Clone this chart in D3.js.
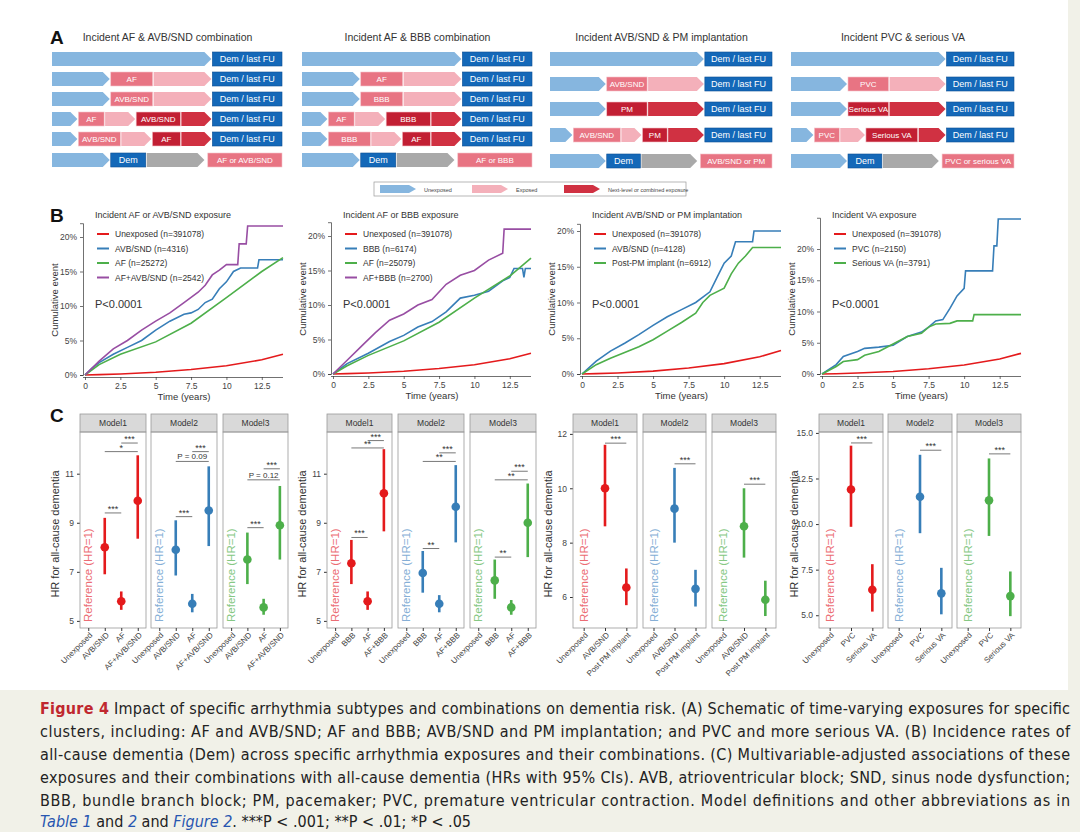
<!DOCTYPE html>
<html><head><meta charset="utf-8">
<script src="https://cdn.jsdelivr.net/npm/d3@7"></script>
<style>
body{margin:0;background:#f1f1e8;}
text{font-family:"Liberation Sans",Arial,sans-serif;}
</style></head>
<body><div id="fig"></div>
<script>
// ---------- Panel A: schematic rows (segment type, start %, end %, label) ----------
const schemaTitles = ["Incident AF & AVB/SND combination", "Incident AF & BBB combination",
  "Incident AVB/SND & PM implantation", "Incident  PVC & serious VA"];
const schemaRows = [
  [[["u",0,69],["d",69,100,"Dem / last FU"]],
   [["u",0,25],["E",25,44,"AF"],["e",44,69],["d",69,100,"Dem / last FU"]],
   [["u",0,25],["E",25,44,"AVB/SND"],["e",44,69],["d",69,100,"Dem / last FU"]],
   [["u",0,11],["E",11,23,"AF"],["e",23,36],["N",36,56,"AVB/SND"],["n",56,69],["d",69,100,"Dem / last FU"]],
   [["u",0,11],["E",11,30,"AVB/SND"],["e",30,43],["N",43,56,"AF"],["n",56,69],["d",69,100,"Dem / last FU"]],
   [["u",0,25],["d",25,41,"Dem"],["g",41,66],["E",67,100,"AF or AVB/SND"]]],
  [[["u",0,69],["d",69,100,"Dem / last FU"]],
   [["u",0,25],["E",25,44,"AF"],["e",44,69],["d",69,100,"Dem / last FU"]],
   [["u",0,25],["E",25,44,"BBB"],["e",44,69],["d",69,100,"Dem / last FU"]],
   [["u",0,11],["E",11,23,"AF"],["e",23,36],["N",36,56,"BBB"],["n",56,69],["d",69,100,"Dem / last FU"]],
   [["u",0,11],["E",11,30,"BBB"],["e",30,43],["N",43,56,"AF"],["n",56,69],["d",69,100,"Dem / last FU"]],
   [["u",0,25],["d",25,41,"Dem"],["g",41,66],["E",67,100,"AF or BBB"]]],
  [[["u",0,69],["d",69,100,"Dem / last FU"]],
   [["u",0,25],["E",25,44,"AVB/SND"],["e",44,69],["d",69,100,"Dem / last FU"]],
   [["u",0,25],["N",25,44,"PM"],["n",44,69],["d",69,100,"Dem / last FU"]],
   [["u",0,10],["E",10,32,"AVB/SND"],["e",32,41],["N",41,53,"PM"],["n",53,69],["d",69,100,"Dem / last FU"]],
   [["u",0,25],["d",25,41,"Dem"],["g",41,66],["E",67,100,"AVB/SND or PM"]]],
  [[["u",0,69],["d",69,100,"Dem / last FU"]],
   [["u",0,25],["E",25,44,"PVC"],["e",44,69],["d",69,100,"Dem / last FU"]],
   [["u",0,25],["N",25,44,"Serious VA"],["n",44,69],["d",69,100,"Dem / last FU"]],
   [["u",0,10],["E",10,22,"PVC"],["e",22,33],["N",33,57,"Serious VA"],["n",57,69],["d",69,100,"Dem / last FU"]],
   [["u",0,25],["d",25,41,"Dem"],["g",41,66],["E",67,100,"PVC or serious VA"]]]
];
const legendA = [["u","Unexposed"],["e","Exposed"],["n","Next-level or combined exposure"]];

// ---------- Panel B: cumulative incidence (time in years, cumulative %) ----------
const kmTitles = ["Incident AF or AVB/SND exposure","Incident AF or BBB exposure",
  "Incident AVB/SND or PM implantation","Incident VA exposure"];
const kmLegends = [
  ["Unexposed (n=391078)","AVB/SND (n=4316)","AF (n=25272)","AF+AVB/SND (n=2542)"],
  ["Unexposed (n=391078)","BBB (n=6174)","AF (n=25079)","AF+BBB (n=2700)"],
  ["Unexposed (n=391078)","AVB/SND (n=4128)","Post-PM implant (n=6912)"],
  ["Unexposed (n=391078)","PVC (n=2150)","Serious VA (n=3791)"]];
const kmYMax = [22, 22, 21, 25];
const kmYTicks = [[0,5,10,15,20],[0,5,10,15,20],[0,5,10,15,20],[0,5,10,15,20]];
const timeTicks = [0,2.5,5,7.5,10,12.5];
const unexposedA = [[0,0],[1,0.05],[2.5,0.15],[5,0.4],[7.5,0.8],[10,1.35],[12.5,2.2],[14,3.0]];
const unexposedB = [[0,0],[1,0.05],[2.5,0.15],[5,0.4],[7.5,0.85],[10,1.45],[12.5,2.4],[14,3.3]];
const p1Avb = [[0,0],[0.5,1],[1,1.8],[2,3],[3,4],[4,5],[5,6.5],[6,7.8],[7,8.8],[7.5,9],[8,9.5],[8.5,10.5],[9,11],[9.5,12.5],[10,13.5],[10.5,15],[11,15.5],[12.2,15.5],[12.3,16.7],[14,16.7]];
const p1Af = [[0,0],[1,1.5],[2.5,3],[5,4.8],[7.5,7.5],[10,11.2],[12.5,15],[14,17]];
const p1Comb = [[0,0],[1,2],[2,3.8],[3,5],[4,6.5],[5,7.8],[6,9],[7,10.5],[8,12],[8.5,13],[9,14.5],[9.5,15.2],[10,16],[10.8,16],[10.9,19],[11.4,19],[11.5,21.6],[14,21.6]];
const p2Bbb = [[0,0],[1,1.5],[2.5,3],[4,4.7],[5,5.6],[6,6.8],[7,7.6],[8,9],[9,11],[10,11.4],[11,12],[12,13.5],[12.5,14],[12.8,15.3],[13.4,15.3],[13.5,14],[13.6,15.3],[14,15.3]];
const p2Af = [[0,0],[1,1.2],[2.5,2.7],[5,4.8],[7.5,7.5],[10,11],[12.5,14.2],[14,16.8]];
const p2Comb = [[0,0],[1,2],[2,4],[3,6],[4,7.8],[5,8.7],[6,10],[7,10.8],[8,13],[9,14.3],[10,15],[11,16.5],[12,17.5],[12.1,21],[14,21]];
const p3Avb = [[0,0],[1,1.8],[2,3.2],[3,4.3],[4,5.5],[5,6.8],[6,8],[7,9],[8,10],[9,11.5],[9.5,13.5],[10,15.5],[10.5,16.5],[10.8,18.5],[12,18.5],[12.1,20],[14,20]];
const p3Pm = [[0,0],[1,1.3],[2,2.2],[3,3],[4,3.8],[5,4.8],[6,6],[7,7.2],[8,8.5],[8.5,10],[9,11],[10,12],[10.5,14],[11,15.5],[11.5,16.5],[12,17.7],[14,17.7]];
const p4Pvc = [[0,0],[1,1.5],[1.5,2.8],[2.5,3.6],[3,4.1],[4,4.3],[5,4.6],[6,6],[7,6.7],[7.5,7.5],[8,8.5],[8.5,8.7],[9,10.5],[9.5,12.5],[10,13.7],[10.1,16.5],[12,16.5],[12.1,20.5],[12.3,20.5],[12.4,24.8],[14,24.8]];
const p4Va = [[0,0],[1,1.2],[1.5,2],[2.5,2.3],[3,3],[4,3.6],[5,4.8],[6,6],[7,6.5],[7.5,7.5],[8,8],[9,8.1],[9.5,8.5],[10.6,8.5],[10.7,9.5],[14,9.5]];
const kmSeries = [[unexposedA,p1Avb,p1Af,p1Comb],[unexposedA,p2Bbb,p2Af,p2Comb],[unexposedB,p3Avb,p3Pm],[unexposedB,p4Pvc,p4Va]];

// ---------- Panel C: hazard ratios [category, HR, lower, upper] per model ----------
const hrCats = [
  ["Unexposed","AVB/SND","AF","AF+AVB/SND"],
  ["Unexposed","BBB","AF","AF+BBB"],
  ["Unexposed","AVB/SND","Post PM implant"],
  ["Unexposed","PVC","Serious VA"]];
const hrDomains = [[4.71,12.7],[4.71,12.7],[4.86,12.07],[4.3,15.05]];
const hrTicks = [[5,7,9,11],[5,7,9,11],[6,8,10,12],[5,7.5,10,12.5,15]];
const hrValues = [
  [[["AVB/SND",8.0,6.9,9.2],["AF",5.8,5.45,6.2],["AF+AVB/SND",9.9,8.35,11.75]],
   [["AVB/SND",7.9,6.85,9.1],["AF",5.7,5.35,6.1],["AF+AVB/SND",9.5,8.05,11.3]],
   [["AVB/SND",7.5,6.5,8.6],["AF",5.55,5.25,5.9],["AF+AVB/SND",8.9,7.5,10.5]]],
  [[["BBB",7.35,6.5,8.3],["AF",5.8,5.45,6.2],["AF+BBB",10.2,8.65,12.0]],
   [["BBB",6.95,6.15,7.85],["AF",5.7,5.35,6.05],["AF+BBB",9.65,8.2,11.35]],
   [["BBB",6.65,5.9,7.5],["AF",5.55,5.25,5.85],["AF+BBB",9.0,7.6,10.6]]],
  [[["AVB/SND",10.0,8.6,11.6],["Post PM implant",6.35,5.7,7.05]],
   [["AVB/SND",9.25,8.0,10.75],["Post PM implant",6.3,5.65,7.0]],
   [["AVB/SND",8.6,7.45,10.0],["Post PM implant",5.9,5.3,6.6]]],
  [[["PVC",11.9,9.85,14.3],["Serious VA",6.4,5.2,7.8]],
   [["PVC",11.5,9.5,13.8],["Serious VA",6.2,5.05,7.6]],
   [["PVC",11.3,9.35,13.6],["Serious VA",6.05,4.95,7.4]]]];
// brackets [from, to, y, label]
const hrBrackets = [
  [[[1,2,9.4,"***"],[1,3,11.9,"*"],[2,3,12.25,"***"]],
   [[1,2,9.25,"***"],[1,3,11.5,"P = 0.09"],[2,3,11.9,"***"]],
   [[1,2,8.8,"***"],[1,3,10.75,"P = 0.12"],[2,3,11.2,"***"]]],
  [[[1,2,8.4,"***"],[1,3,12.05,"**"],[2,3,12.35,"***"]],
   [[1,2,7.95,"**"],[1,3,11.5,"**"],[2,3,11.85,"***"]],
   [[1,2,7.6,"**"],[1,3,10.75,"**"],[2,3,11.1,"***"]]],
  [[[1,2,11.66,"***"]],[[1,2,10.9,"***"]],[[1,2,10.15,"***"]]],
  [[[1,2,14.45,"***"]],[[1,2,14.05,"***"]],[[1,2,13.85,"***"]]]];
const models = ["Model1","Model2","Model3"];

const lineColors = ["#e41a1c","#377eb8","#4daf4a","#984ea3"];
const modelColors = ["#e41a1c","#377eb8","#4daf4a"];
const refColors = ["#ec6d74","#86afd6","#86c884"];
const segFill = {u:"#86b6df",e:"#f4b0ba",E:"#e87483",n:"#d03142",N:"#c21f33",d:"#1468b8",g:"#a9a9a9"};

const svg = d3.select("#fig").append("svg").attr("width",1080).attr("height",832);
svg.append("rect").attr("width",1068).attr("height",690).attr("fill","#fff");

function arrowPath(x0,x1,y0,h){
  const tip = Math.min(7,(x1-x0)*0.4);
  return `M${x0},${y0}L${x1-tip},${y0}L${x1},${y0+h/2}L${x1-tip},${y0+h}L${x0},${y0+h}Z`;
}
function panelLetter(t,x,y){
  svg.append("text").attr("x",x).attr("y",y).text(t)
    .attr("font-size",19).attr("font-weight","bold").attr("fill","#111");
}

// ---------- A ----------
panelLetter("A",50,44);
const aGroupsX = [[52,283],[302,533],[550,773],[791,1015]];
const aRowY = [[52,72,92,112,132,153],[52,72,92,112,132,153],[52,77,102,128,154],[52,77,102,128,154]];
schemaRows.forEach((rows,gi)=>{
  const [gx0,gx1] = aGroupsX[gi];
  const sx = d3.scaleLinear().domain([0,100]).range([gx0,gx1]);
  svg.append("text").attr("x",(gx0+gx1)/2).attr("y",41).attr("text-anchor","middle")
    .attr("font-size",10.5).attr("fill","#333").text(schemaTitles[gi]);
  rows.forEach((segs,ri)=>{
    const y0 = aRowY[gi][ri], h = 14;
    const g = svg.append("g");
    segs.forEach(s=>{
      const [type,a,b,label] = s;
      const x0 = sx(a), x1 = sx(b);
      if (type===type.toLowerCase() && type!=="d") {
        g.append("path").attr("d",arrowPath(x0,x1,y0,h)).attr("fill",segFill[type]);
      } else {
        g.append("rect").attr("x",x0+1).attr("y",y0).attr("width",x1-x0-2).attr("height",h)
          .attr("fill",segFill[type]).attr("stroke",type==="d"?"#0d4f94":"#f3c4ca").attr("stroke-width",0.6);
        g.append("text").attr("x",(x0+x1)/2).attr("y",y0+h/2+3.3).attr("text-anchor","middle")
          .attr("font-size",type==="d"?9:8).attr("fill","#fff").text(label);
      }
    });
  });
});
svg.append("rect").attr("x",374).attr("y",182).attr("width",312).attr("height",14)
  .attr("fill","#fff").attr("stroke","#999").attr("stroke-width",0.7);
legendA.forEach((d,i)=>{
  const x = 380 + i*92;
  svg.append("path").attr("d",arrowPath(x,x+36,185,8)).attr("fill",segFill[d[0]]);
  svg.append("text").attr("x",x+44).attr("y",191.5).attr("font-size",5.5).attr("fill","#444").text(d[1]);
});

// ---------- B ----------
panelLetter("B",50,222);
const kmX = [[85,283],[333,531],[582,781],[822,1021]];
const kmY0 = [375,374,374,374];
const kmPx = [6.9,6.9,7.15,6.25];
kmSeries.forEach((series,pi)=>{
  const [x0,x1] = kmX[pi];
  const x = d3.scaleLinear().domain([0,14]).range([x0,x1]);
  const y = d3.scaleLinear().domain([0,kmYMax[pi]]).range([kmY0[pi],kmY0[pi]-kmYMax[pi]*kmPx[pi]]);
  const g = svg.append("g");
  const ax = g.append("g").attr("transform",`translate(0,${kmY0[pi]+2})`)
    .call(d3.axisBottom(x).tickValues(timeTicks).tickFormat(d=>d).tickSize(3));
  const ay = g.append("g").attr("transform",`translate(${x0-2},0)`)
    .call(d3.axisLeft(y).tickValues(kmYTicks[pi]).tickFormat(d=>d+"%").tickSize(3));
  [ax,ay].forEach(a=>{
    a.selectAll("path,line").attr("stroke","#333").attr("stroke-width",0.7);
    a.selectAll("text").attr("font-size",8.5).attr("fill","#444").attr("font-family","Liberation Sans, Arial");
  });
  ax.select(".domain").attr("d",`M${x0-2},0.5H${x1}`);
  g.append("text").attr("x",(x0+x1)/2).attr("y",kmY0[pi]+25).attr("text-anchor","middle")
    .attr("font-size",9.5).attr("fill","#333").text("Time (years)");
  g.append("text").attr("transform",`translate(${x0-27},${kmY0[pi]-75}) rotate(-90)`)
    .attr("text-anchor","middle").attr("font-size",9.5).attr("fill","#333").text("Cumulative event");
  const line = d3.line().x(d=>x(d[0])).y(d=>y(d[1]));
  series.forEach((s,si)=>{
    g.append("path").datum(s).attr("d",line).attr("fill","none")
      .attr("stroke",lineColors[si]).attr("stroke-width",1.6);
  });
  g.append("text").attr("x",x0+10).attr("y",218).attr("font-size",9).attr("fill","#333").text(kmTitles[pi]);
  kmLegends[pi].forEach((t,li)=>{
    const ly = 234 + li*14.5;
    g.append("line").attr("x1",x0+12).attr("x2",x0+24).attr("y1",ly).attr("y2",ly)
      .attr("stroke",lineColors[li]).attr("stroke-width",2);
    g.append("text").attr("x",x0+30).attr("y",ly+3).attr("font-size",8.5).attr("fill","#333").text(t);
  });
  g.append("text").attr("x",x0+10).attr("y",308).attr("font-size",11).attr("fill","#333").text("P<0.0001");
});

// ---------- C ----------
panelLetter("C",50,422);
const facetX = [[[80,146],[151,217],[223,288]],[[327,392],[398,464],[470,536]],
  [[573,637],[643,706],[712,776]],[[819,883],[888,952],[957,1021]]];
const stripTop = 414, panTop = 432, panBot = 628;
hrValues.forEach((grp,gi)=>{
  const y = d3.scaleLinear().domain(hrDomains[gi]).range([panBot,panTop]);
  const fx0 = facetX[gi][0][0];
  const ay = svg.append("g").attr("transform",`translate(${fx0},0)`)
    .call(d3.axisLeft(y).tickValues(hrTicks[gi]).tickFormat(gi===3?d3.format(".1f"):d3.format("d")).tickSize(3));
  ay.select(".domain").remove();
  ay.selectAll("line").attr("stroke","#333");
  ay.selectAll("text").attr("font-size",8.5).attr("fill","#444").attr("font-family","Liberation Sans, Arial");
  svg.append("text").attr("transform",`translate(${fx0-21},${(panTop+panBot)/2+4}) rotate(-90)`)
    .attr("text-anchor","middle").attr("font-size",11).attr("fill","#333").text("HR for all-cause dementia");
  grp.forEach((rows,mi)=>{
    const [a,b] = facetX[gi][mi];
    const x = d3.scalePoint().domain(hrCats[gi]).range([a,b]).padding(0.5);
    const g = svg.append("g");
    g.append("rect").attr("x",a).attr("y",stripTop).attr("width",b-a).attr("height",panTop-stripTop)
      .attr("fill","#d9d9d9").attr("stroke","#999").attr("stroke-width",0.8);
    g.append("text").attr("x",(a+b)/2).attr("y",stripTop+12).attr("text-anchor","middle")
      .attr("font-size",8.5).attr("fill","#333").text(models[mi]);
    g.append("rect").attr("x",a).attr("y",panTop).attr("width",b-a).attr("height",panBot-panTop)
      .attr("fill","none").attr("stroke","#999").attr("stroke-width",0.8);
    const ax = g.append("g").attr("transform",`translate(0,${panBot})`)
      .call(d3.axisBottom(x).tickSize(3));
    ax.select(".domain").remove();
    ax.selectAll("line").attr("stroke","#333");
    ax.selectAll("text").attr("font-size",8).attr("fill","#444").attr("font-family","Liberation Sans, Arial")
      .attr("text-anchor","end").attr("dx","-0.3em").attr("dy","0.3em").attr("transform","rotate(-45)");
    g.append("text").attr("transform",`translate(${x("Unexposed")+4},${panBot-6}) rotate(-90)`)
      .attr("font-size",11.5).attr("fill",refColors[mi]).text("Reference (HR=1)");
    rows.forEach(r=>{
      g.append("line").attr("x1",x(r[0])).attr("x2",x(r[0])).attr("y1",y(r[2])).attr("y2",y(r[3]))
        .attr("stroke",modelColors[mi]).attr("stroke-width",2.6);
      g.append("circle").attr("cx",x(r[0])).attr("cy",y(r[1])).attr("r",4.3).attr("fill",modelColors[mi]);
    });
    hrBrackets[gi][mi].forEach(br=>{
      const xa = x(hrCats[gi][br[0]]), xb = x(hrCats[gi][br[1]]);
      g.append("line").attr("x1",xa).attr("x2",xb).attr("y1",y(br[2])).attr("y2",y(br[2]))
        .attr("stroke","#555").attr("stroke-width",0.8);
      g.append("text").attr("x",(xa+xb)/2).attr("y",y(br[2])-(br[3].startsWith("P")?2:1))
        .attr("text-anchor","middle").attr("font-size",br[3].startsWith("P")?8:9).attr("fill","#333").text(br[3]);
    });
  });
});

// ---------- caption ----------
const captionLines = [
  "Impact of specific arrhythmia subtypes and combinations on dementia risk. (A) Schematic of time-varying exposures for specific",
  "clusters, including: AF and AVB/SND; AF and BBB; AVB/SND and PM implantation; and PVC and more serious VA. (B) Incidence rates of",
  "all-cause dementia (Dem) across specific arrhythmia exposures and their combinations. (C) Multivariable-adjusted associations of these",
  "exposures and their combinations with all-cause dementia (HRs with 95% CIs). AVB, atrioventricular block; SND, sinus node dysfunction;",
  "BBB, bundle branch block; PM, pacemaker; PVC, premature ventricular contraction. Model definitions and other abbreviations as in"];
const capFont = '"Liberation Sans Narrow","DejaVu Sans Condensed","Roboto Condensed",sans-serif';
const capY = [714,737,760,783,806];
captionLines.forEach((t,i)=>{
  const tx = svg.append("text").attr("y",capY[i]).attr("font-size",16).attr("fill","#222")
    .style("font-family",capFont).style("font-stretch","condensed");
  if (i===0){
    tx.attr("x",40);
    tx.append("tspan").attr("fill","#c0282f").attr("font-weight","bold").text("Figure 4");
    tx.append("tspan").text(" "+t);
    tx.attr("textLength",1030).attr("lengthAdjust","spacing");
  } else {
    tx.attr("x",40).text(t).attr("textLength",1030).attr("lengthAdjust","spacing");
  }
});
const last = svg.append("text").attr("x",40).attr("y",827).attr("font-size",16).attr("fill","#222")
  .style("font-family",capFont).style("font-stretch","condensed");
last.append("tspan").attr("fill","#2856b0").attr("font-style","italic").text("Table 1");
last.append("tspan").text(" and ");
last.append("tspan").attr("fill","#2856b0").attr("font-style","italic").text("2");
last.append("tspan").text(" and ");
last.append("tspan").attr("fill","#2856b0").attr("font-style","italic").text("Figure 2");
last.append("tspan").text(". ***P < .001; **P < .01; *P < .05");
</script></body></html>
